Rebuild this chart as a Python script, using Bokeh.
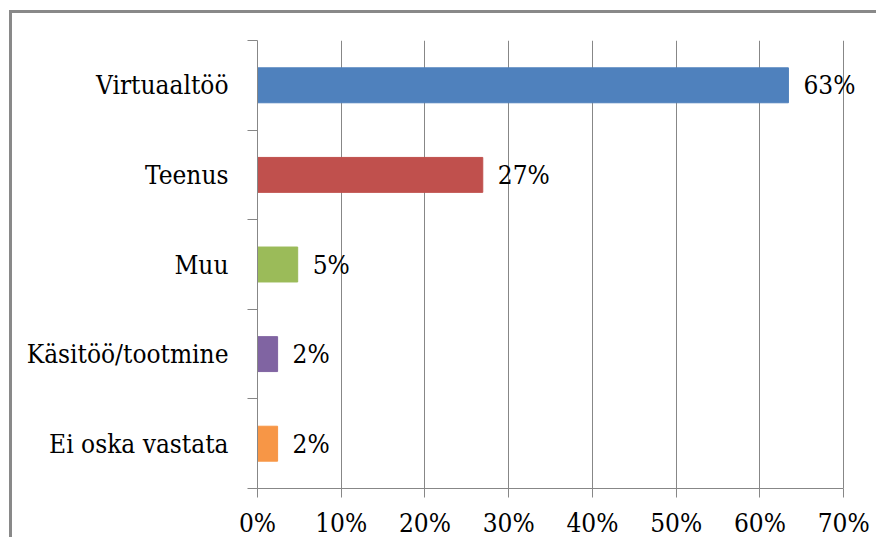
from bokeh.plotting import figure
from bokeh.models import ColumnDataSource, FixedTicker, Range1d, LabelSet
from bokeh.core.properties import value
from bokeh.embed import file_html
from bokeh.resources import INLINE

categories = ["Virtuaaltöö", "Teenus", "Muu", "Käsitöö/tootmine", "Ei oska vastata"]
values = [63.4, 26.9, 4.8, 2.4, 2.4]
value_labels = ["63%", "27%", "5%", "2%", "2%"]
colors = ["#4F81BD", "#C0504D", "#9BBB59", "#8064A2", "#F79646"]
x_ticks = [0, 10, 20, 30, 40, 50, 60, 70]
x_tick_labels = ["0%", "10%", "20%", "30%", "40%", "50%", "60%", "70%"]

n = len(categories)
ypos = [n - i - 0.5 for i in range(n)]

src = ColumnDataSource(dict(y=ypos, v=values, lab=value_labels, c=colors, cat=categories))

FONT = "DejaVu Serif Condensed"
FS = "26px"
GRAY = "#878787"

p = figure(width=867, height=527, output_backend="svg", toolbar_location=None,
           x_range=Range1d(0, 73.2), y_range=Range1d(0, n),
           min_border_left=245, min_border_top=27, min_border_right=9, min_border_bottom=52)
p.styles = {"border-top": "3px solid #898989", "border-left": "3px solid #898989",
            "margin-left": "9px", "margin-top": "10px"}
p.outline_line_color = None
p.background_fill_color = "white"
p.border_fill_color = "white"

p.hbar(y="y", right="v", left=0, height=0.39, color="c", source=src)

labels = LabelSet(x="v", y="y", text="lab", source=src, x_offset=15, text_baseline="middle",
                  text_font=value(FONT), text_font_size=value(FS), text_color="black")
p.add_layout(labels)

# x axis
xa = p.xaxis[0]
xa.ticker = FixedTicker(ticks=x_ticks)
xa.bounds = (0, 70)
xa.major_label_overrides = {t: l for t, l in zip(x_ticks, x_tick_labels)}
xa.major_label_text_font = FONT
xa.major_label_text_font_size = FS
xa.major_label_text_color = "black"
xa.major_label_standoff = 10
xa.major_tick_out = 9
xa.major_tick_in = 0
xa.minor_tick_out = 0
xa.minor_tick_in = 0
xa.axis_line_color = GRAY
xa.major_tick_line_color = GRAY

# y axis
ya = p.yaxis[0]
ya.ticker = FixedTicker(ticks=ypos, minor_ticks=list(range(n + 1)))
ya.major_label_overrides = {y: c for y, c in zip(ypos, categories)}
ya.major_label_text_font = FONT
ya.major_label_text_font_size = FS
ya.major_label_text_color = "black"
ya.major_tick_out = 0
ya.major_tick_in = 0
ya.minor_tick_out = 10
ya.minor_tick_in = 0
ya.minor_tick_line_color = GRAY
ya.major_label_standoff = 19
ya.axis_line_color = GRAY

p.xgrid.ticker = FixedTicker(ticks=x_ticks)
p.xgrid.bounds = (0, n)
p.xgrid.grid_line_color = GRAY
p.xgrid.grid_line_width = 1
p.ygrid.grid_line_color = None

open("out.html", "w").write(file_html(p, INLINE))
